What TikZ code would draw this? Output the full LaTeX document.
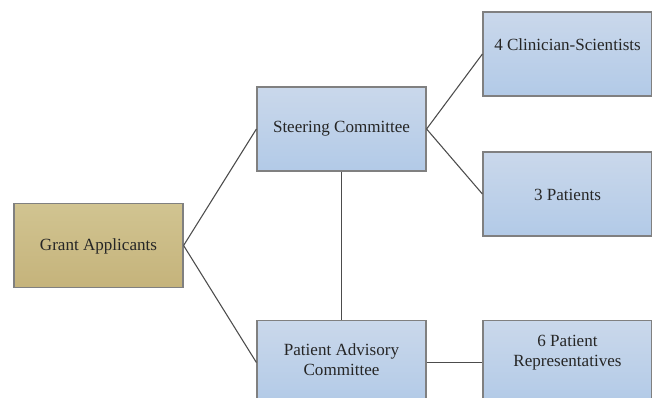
\documentclass[tikz,border=0pt]{standalone}
\usepackage{fontspec}
\setmainfont{Liberation Serif}
\begin{document}
\begin{tikzpicture}[x=0.75pt,y=-0.75pt,
  box/.style={draw=black!50, line width=0.9pt, rectangle, minimum width=126.75pt, minimum height=63pt, inner sep=0pt},
  goldbox/.style={box, top color=gold1, bottom color=gold2},
  lbl/.style={font=\fontsize{12.8}{15}\selectfont, align=center, inner sep=0pt, text=black!85},
  conn/.style={draw=black!70, line width=0.8pt}]
\definecolor{gold1}{HTML}{D1C491}
\definecolor{gold2}{HTML}{C5B37B}
\definecolor{blue1}{HTML}{CAD8EB}
\definecolor{blue2}{HTML}{B2CAE7}
\tikzset{bluebox/.style={box, top color=blue1, bottom color=blue2}}
\useasboundingbox (0,0) rectangle (652,398);
\clip (0,0) rectangle (652,398);
\fill[white] (0,0) rectangle (652,398);
% boxes
\node[goldbox] (ga) at (98.5,245.5) {};
\node[bluebox] (sc) at (341.5,129) {};
\node[bluebox] (cs) at (567.5,54) {};
\node[bluebox] (pt) at (567.5,194) {};
\node[bluebox] (pac) at (341.5,362.5) {};
\node[bluebox] (pr) at (567.5,362.5) {};
% connectors
\draw[conn] (ga.east) -- (sc.west);
\draw[conn] (ga.east) -- (pac.west);
\draw[conn] (sc.east) -- (cs.west);
\draw[conn] (sc.east) -- (pt.west);
\draw[conn] (sc.south) -- (pac.north);
\draw[conn] (pac.east) -- (pr.west);
% labels
\node[lbl] (tga) at (98.5,246) {Grant Applicants};
\node[lbl] (tsc) at (341.5,129) {Steering Committee};
\node[lbl] (tcs) at (567.5,45) {4 Clinician-Scientists};
\node[lbl] (tpt) at (567.5,195) {3 Patients};
\node[lbl] (tpac) at (341.5,360) {Patient Advisory\\Committee};
\node[lbl] (tpr) at (567.5,353) {6 Patient\\Representatives};
\end{tikzpicture}
\end{document}
